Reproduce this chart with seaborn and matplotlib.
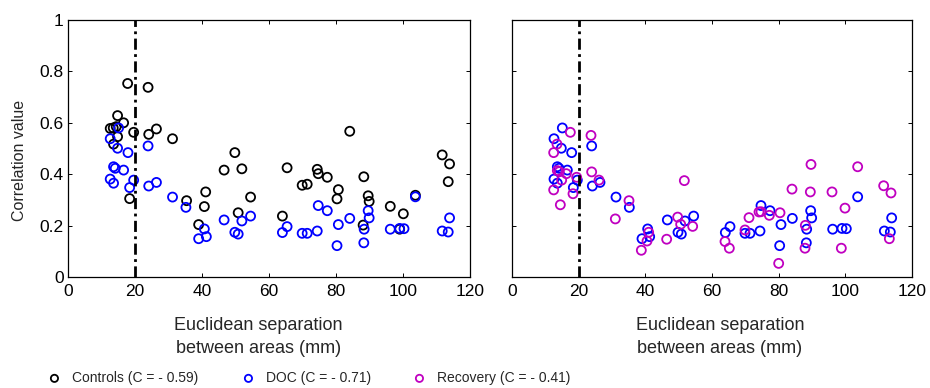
import matplotlib
matplotlib.use("Agg")
import matplotlib.pyplot as plt
import seaborn as sns

sns.set_theme(style="white")
plt.rcParams["font.family"] = ["Liberation Sans", "DejaVu Sans"]

# Distance between area pairs (mm) and correlation value, per group
controls_x = [12.6, 13.5, 14.4, 14.8, 16.6, 13.6, 14.8, 17.8, 19.6, 18.4, 23.9, 24.1,
              26.4, 31.2, 35.4, 39.0, 41.1, 40.7, 46.6, 49.8, 51.9, 50.8, 54.5, 64.0,
              65.4, 69.9, 71.4, 74.4, 74.7, 77.4, 80.7, 80.3, 84.1, 88.3, 88.1, 89.6,
              89.9, 96.2, 99.0, 100.1, 103.7, 111.7, 113.9, 113.5]
controls_y = [0.578, 0.580, 0.585, 0.628, 0.600, 0.517, 0.546, 0.753, 0.563, 0.305, 0.738, 0.555,
              0.576, 0.538, 0.297, 0.204, 0.331, 0.274, 0.416, 0.484, 0.421, 0.250, 0.311, 0.237,
              0.425, 0.357, 0.361, 0.419, 0.402, 0.388, 0.340, 0.304, 0.567, 0.390, 0.202, 0.316,
              0.294, 0.275, 0.186, 0.246, 0.318, 0.475, 0.440, 0.371]

doc_x = [12.6, 15.1, 14.8, 17.9, 13.6, 14.1, 16.6, 12.6, 13.6, 19.6, 18.4, 23.9,
         24.1, 26.4, 31.2, 35.2, 39.0, 40.7, 41.3, 46.6, 49.8, 50.8, 51.9, 54.5,
         64.0, 65.4, 69.9, 71.4, 74.4, 74.7, 77.4, 80.7, 80.3, 84.1, 88.3, 88.4,
         89.6, 89.9, 96.2, 99.0, 100.3, 103.7, 111.7, 113.5, 113.9]
doc_y = [0.538, 0.580, 0.501, 0.484, 0.429, 0.423, 0.416, 0.381, 0.365, 0.377, 0.348, 0.510,
         0.354, 0.368, 0.311, 0.271, 0.149, 0.187, 0.157, 0.222, 0.174, 0.167, 0.218, 0.237,
         0.173, 0.196, 0.170, 0.170, 0.179, 0.278, 0.258, 0.204, 0.122, 0.228, 0.133, 0.186,
         0.258, 0.230, 0.186, 0.189, 0.188, 0.312, 0.179, 0.175, 0.230]

recovery_x = [17.5, 13.5, 12.5, 13.6, 14.2, 16.3, 14.9, 12.5, 14.5, 18.3, 19.4, 23.7,
              23.9, 26.1, 31.0, 35.1, 38.8, 40.5, 41.0, 46.4, 49.7, 50.6, 51.7, 54.2,
              63.9, 65.2, 69.9, 71.1, 74.1, 74.7, 77.2, 80.4, 80.0, 84.0, 88.0, 87.9,
              89.7, 89.5, 96.0, 98.8, 99.9, 103.7, 111.5, 113.7, 113.2]
recovery_y = [0.563, 0.517, 0.484, 0.414, 0.410, 0.402, 0.377, 0.339, 0.281, 0.324, 0.388, 0.551,
              0.409, 0.377, 0.226, 0.297, 0.104, 0.140, 0.174, 0.147, 0.233, 0.205, 0.375, 0.197,
              0.138, 0.112, 0.183, 0.231, 0.253, 0.254, 0.240, 0.250, 0.053, 0.342, 0.201, 0.112,
              0.438, 0.331, 0.331, 0.112, 0.268, 0.429, 0.355, 0.327, 0.149]

labels = ["Controls (C = - 0.59)", "DOC (C = - 0.71)", "Recovery (C = - 0.41)"]
colors = ["#000000", "#0000FF", "#C000C0"]
cutoff_mm = 20
x_ticks = [0, 20, 40, 60, 80, 100, 120]
y_ticks = [0, 0.2, 0.4, 0.6, 0.8, 1]
y_ticklabels = ["0", "0.2", "0.4", "0.6", "0.8", "1"]

fig = plt.figure(figsize=(9.3, 3.88), dpi=100)
ax1 = fig.add_axes([68 / 930, 111 / 388, 402 / 930, 257 / 388])
ax2 = fig.add_axes([512 / 930, 111 / 388, 400 / 930, 257 / 388])

mk = dict(marker="o", s=42, facecolor="none", linewidth=1.3)


def scatter(ax, x, y, i):
    sns.scatterplot(x=x, y=y, ax=ax, edgecolor=colors[i], label=labels[i],
                    legend=False, **mk)


scatter(ax1, controls_x, controls_y, 0)
scatter(ax1, doc_x, doc_y, 1)
scatter(ax2, doc_x, doc_y, 1)
scatter(ax2, recovery_x, recovery_y, 2)

for ax in (ax1, ax2):
    ax.axvline(cutoff_mm, color="black", lw=2.0, linestyle=(0, (4, 1.6, 1, 1.6)), zorder=1)
    ax.set_xlim(0, 120)
    ax.set_ylim(0, 1)
    ax.set_xticks(x_ticks)
    ax.set_xticklabels([str(t) for t in x_ticks])
    ax.set_yticks(y_ticks)
    ax.tick_params(direction="in", length=3, width=0.7, top=True, right=True,
                   bottom=True, left=True, labelsize=12.5, colors="black")
    ax.tick_params(axis="x", pad=5)
    ax.tick_params(axis="y", pad=3)
    for sp in ax.spines.values():
        sp.set_visible(True)
        sp.set_color("black")
        sp.set_linewidth(0.9)
    ax.set_xlabel("Euclidean separation\nbetween areas (mm)", fontsize=13,
                  linespacing=1.45, va="top")
    ax.grid(False)

ax1.set_yticklabels(y_ticklabels)
ax2.set_yticklabels([])
ax1.set_ylabel("Correlation value", fontsize=11.5)
ax1.yaxis.set_label_coords(-0.103, 0.455)
ax1.xaxis.set_label_coords(0.473, -0.155)
ax2.xaxis.set_label_coords(0.52, -0.155)

# Legend entries laid out in one row under the panels
h1, l1 = ax1.get_legend_handles_labels()
h2, l2 = ax2.get_legend_handles_labels()
handles = {lab: h for h, lab in zip(h1 + h2, l1 + l2)}
for lab, xpx in zip(labels, [54, 248, 419]):
    fig.legend([handles[lab]], [lab], loc="center left",
               bbox_to_anchor=((xpx - 6.5) / 930, 1 - 378 / 388),
               frameon=False, fontsize=10, handlelength=1.0, handletextpad=0.75,
               borderpad=0, borderaxespad=0, markerscale=0.8)

fig.savefig("out.png", dpi=100, facecolor="white")
